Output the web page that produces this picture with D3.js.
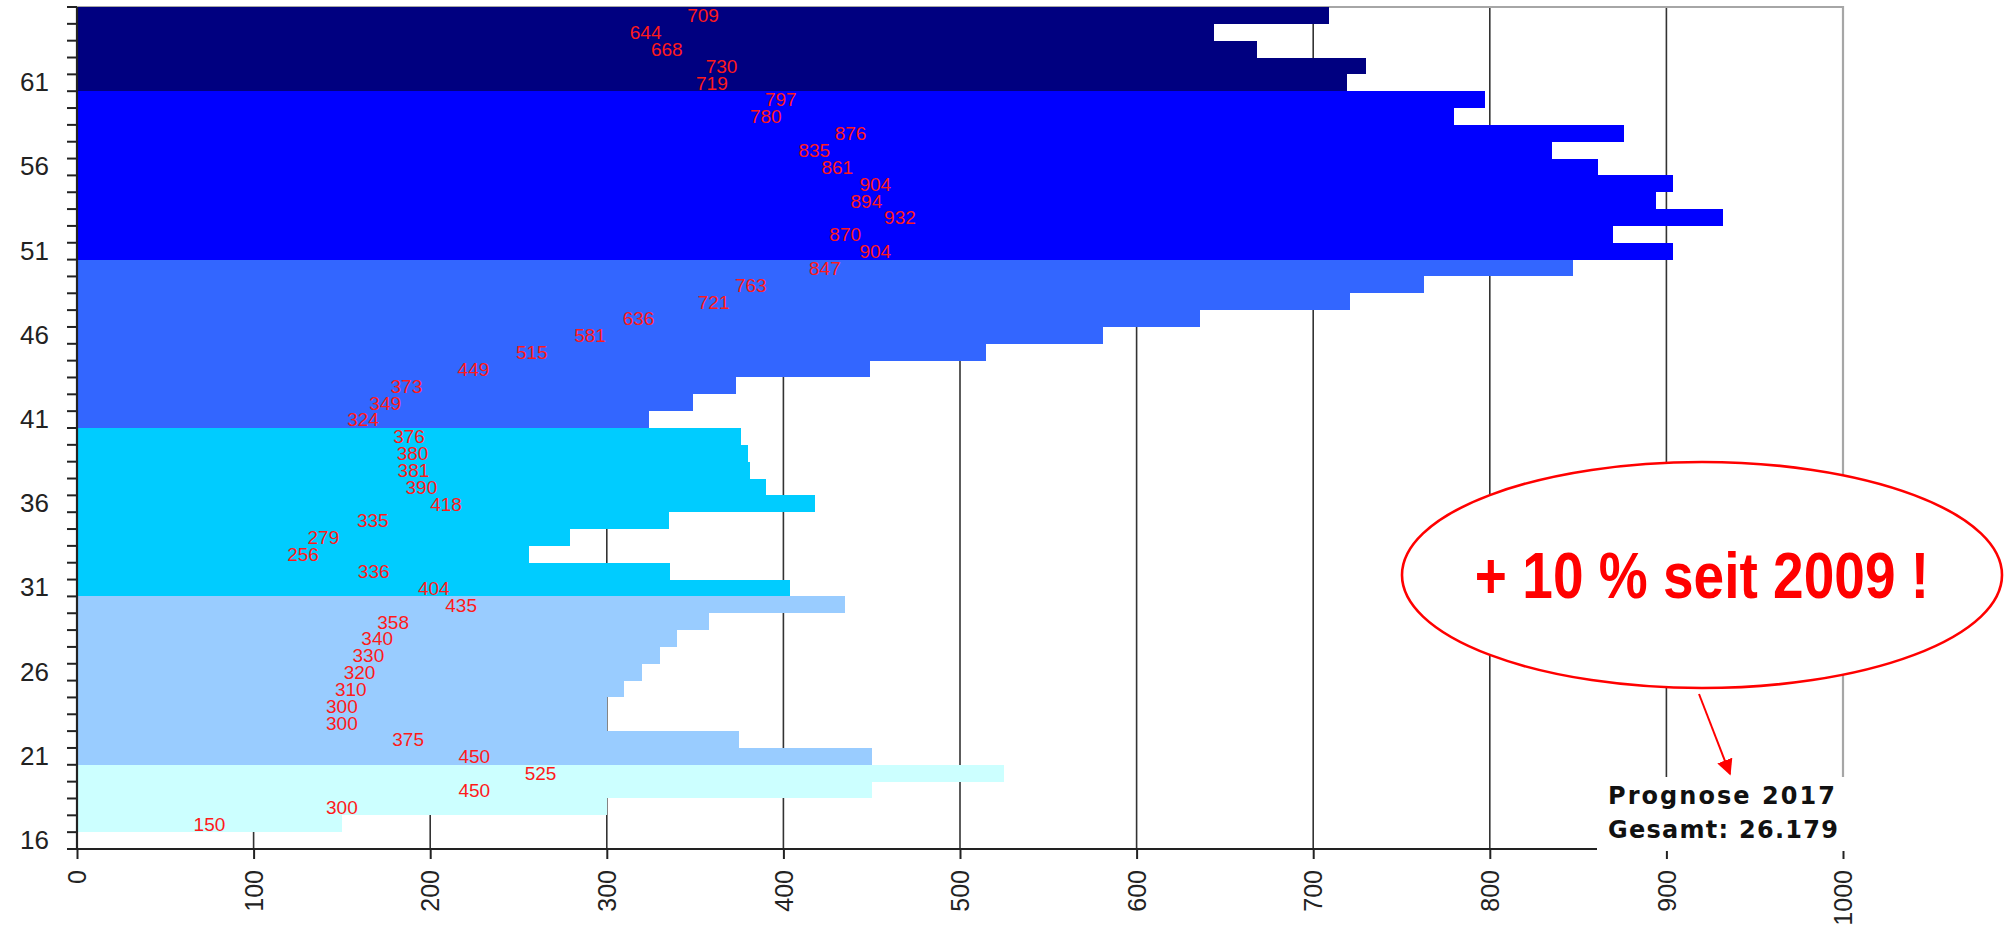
<!DOCTYPE html>
<html>
<head>
<meta charset="utf-8">
<script src="https://cdn.jsdelivr.net/npm/d3@7/dist/d3.min.js"></script>
<style>
  html, body { margin: 0; padding: 0; background: #ffffff; }
  svg { display: block; }
</style>
</head>
<body>
<svg id="chart" width="2004" height="930"></svg>
<script>
// Age categories (bottom to top)
const ages = [16, 17, 18, 19, 20, 21, 22, 23, 24, 25, 26, 27, 28, 29, 30,
              31, 32, 33, 34, 35, 36, 37, 38, 39, 40, 41, 42, 43, 44, 45,
              46, 47, 48, 49, 50, 51, 52, 53, 54, 55, 56, 57, 58, 59, 60,
              61, 62, 63, 64, 65];

// Number of people per age (age 16 has no entry)
const counts = [null, 150, 300, 450, 525, 450, 375, 300, 300, 310, 320, 330, 340, 358, 435,
                404, 336, 256, 279, 335, 418, 390, 381, 380, 376, 324, 349, 373, 449, 515,
                581, 636, 721, 763, 847, 904, 870, 932, 894, 904, 861, 835, 876, 780, 797,
                719, 730, 668, 644, 709];

// Age groups and their bar colours
const groupStart = [16, 21, 31, 41, 51, 61];
const groupColor = ["#ccffff", "#99ccff", "#00ccff", "#3366ff", "#0000ff", "#000080"];

// Axis tick labels
const yTickLabels = [16, 21, 26, 31, 36, 41, 46, 51, 56, 61];
const xTicks = [0, 100, 200, 300, 400, 500, 600, 700, 800, 900, 1000];

// Annotations
const calloutText = "+ 10 % seit 2009 !";
const noteLines = ["Prognose 2017", "Gesamt: 26.179"];

const svg = d3.select("#chart");
const plot = { left: 77, right: 1843, top: 7, bottom: 849 };

const x = d3.scaleLinear().domain([0, 1000]).range([plot.left, plot.right]);
const y = d3.scaleBand().domain(ages.slice().reverse()).range([plot.top, plot.bottom]).padding(0);

function colorFor(age) {
  let c = groupColor[0];
  groupStart.forEach((s, i) => { if (age >= s) c = groupColor[i]; });
  return c;
}

// vertical grid lines
svg.append("g")
  .selectAll("line")
  .data(xTicks.slice(0, -1))
  .join("line")
  .attr("x1", d => x(d)).attr("x2", d => x(d))
  .attr("y1", plot.top).attr("y2", plot.bottom)
  .attr("stroke", "#333333")
  .attr("stroke-width", 1.6);

// plot frame: top and right edges
svg.append("path")
  .attr("d", `M${plot.left},${plot.top}H${plot.right}V${plot.bottom}`)
  .attr("fill", "none")
  .attr("stroke", "#a6a6a6")
  .attr("stroke-width", 2.2);

// bars, snapped to whole pixels so neighbouring rows meet without seams
const rows = ages.map((a, i) => ({ age: a, value: counts[i] })).filter(d => d.value != null);
const rowTop = a => Math.round(y(a));
const rowBottom = a => Math.round(y(a) + y.bandwidth());

svg.append("g")
  .attr("shape-rendering", "crispEdges")
  .selectAll("rect")
  .data(rows)
  .join("rect")
  .attr("x", x(0))
  .attr("y", d => rowTop(d.age))
  .attr("width", d => x(d.value) - x(0))
  .attr("height", d => rowBottom(d.age) - rowTop(d.age))
  .attr("fill", d => colorFor(d.age));

// value labels, centred on each bar
svg.append("g")
  .selectAll("text")
  .data(rows)
  .join("text")
  .attr("x", d => x(d.value / 2))
  .attr("y", d => y(d.age) + y.bandwidth() / 2)
  .attr("dy", "0.36em")
  .attr("text-anchor", "middle")
  .attr("font-family", "Liberation Sans, Arial, sans-serif")
  .attr("font-size", 19)
  .attr("fill", "#ff1a1a")
  .text(d => d.value);

// y axis
const yAxis = d3.axisLeft(y)
  .tickValues(yTickLabels)
  .tickSize(0)
  .tickPadding(28);
const gy = svg.append("g").attr("transform", `translate(${plot.left},0)`).call(yAxis);
gy.select(".domain").remove();
gy.selectAll("text")
  .attr("font-family", "Liberation Sans, Arial, sans-serif")
  .attr("font-size", 26)
  .attr("fill", "#222222");

// y tick marks at every row boundary
const boundaries = ages.map(a => y(a) + y.bandwidth()).concat([plot.top]);
svg.append("g")
  .selectAll("line")
  .data(boundaries)
  .join("line")
  .attr("x1", plot.left - 10).attr("x2", plot.left)
  .attr("y1", d => d).attr("y2", d => d)
  .attr("stroke", "#222222")
  .attr("stroke-width", 2);

svg.append("line")
  .attr("x1", plot.left).attr("x2", plot.left)
  .attr("y1", plot.top).attr("y2", plot.bottom)
  .attr("stroke", "#222222").attr("stroke-width", 2.2);

// x axis
const xAxis = d3.axisBottom(x).tickValues(xTicks).tickSize(10).tickSizeOuter(0).tickFormat(d3.format("d"));
const gx = svg.append("g").attr("transform", `translate(0,${plot.bottom})`).call(xAxis);
gx.select(".domain")
  .attr("d", `M${plot.left - 10},0H${plot.right}`)
  .attr("stroke", "#222222").attr("stroke-width", 2.2);
gx.selectAll(".tick line").attr("stroke", "#222222").attr("stroke-width", 2);
gx.selectAll("text")
  .attr("font-family", "Liberation Sans, Arial, sans-serif")
  .attr("font-size", 25)
  .attr("fill", "#222222")
  .attr("text-anchor", "end")
  .attr("transform", "rotate(-90)")
  .attr("x", -21)
  .attr("y", 0)
  .attr("dy", "0.35em");

// callout ellipse with message
const ell = { cx: 1702, cy: 575, rx: 300, ry: 113 };
svg.append("ellipse")
  .attr("cx", ell.cx).attr("cy", ell.cy)
  .attr("rx", ell.rx).attr("ry", ell.ry)
  .attr("fill", "#ffffff")
  .attr("stroke", "#ff0000")
  .attr("stroke-width", 2.6);

// condensed bold message inside the ellipse
svg.append("g")
  .attr("transform", `translate(${ell.cx},${ell.cy + 23}) scale(0.86,1)`)
  .append("text")
  .attr("x", 0).attr("y", 0)
  .attr("text-anchor", "middle")
  .attr("font-family", "Liberation Sans, Arial, sans-serif")
  .attr("font-weight", "bold")
  .attr("font-size", 64)
  .attr("fill", "#ff0000")
  .text(calloutText);

// arrow from the callout down to the total
svg.append("defs").append("marker")
  .attr("id", "arrowhead")
  .attr("viewBox", "0 0 10 10")
  .attr("refX", 9).attr("refY", 5)
  .attr("markerWidth", 8).attr("markerHeight", 8)
  .attr("markerUnits", "strokeWidth")
  .attr("orient", "auto")
  .append("path")
  .attr("d", "M0,0L10,5L0,10Z")
  .attr("fill", "#ff0000");

svg.append("line")
  .attr("x1", 1699).attr("y1", 694)
  .attr("x2", 1730).attr("y2", 774)
  .attr("stroke", "#ff0000")
  .attr("stroke-width", 2)
  .attr("marker-end", "url(#arrowhead)");

// total box
svg.append("rect")
  .attr("x", 1597).attr("y", 777)
  .attr("width", 265).attr("height", 74)
  .attr("fill", "#ffffff");

svg.append("g")
  .selectAll("text")
  .data(noteLines)
  .join("text")
  .attr("x", 1608)
  .attr("y", (d, i) => 804 + i * 34)
  .attr("font-family", "DejaVu Sans, Verdana, sans-serif")
  .attr("font-weight", "bold")
  .attr("font-size", 24)
  .attr("textLength", (d, i) => i === 0 ? 227 : 230)
  .attr("lengthAdjust", "spacing")
  .attr("fill", "#111111")
  .text(d => d);
</script>
</body>
</html>
